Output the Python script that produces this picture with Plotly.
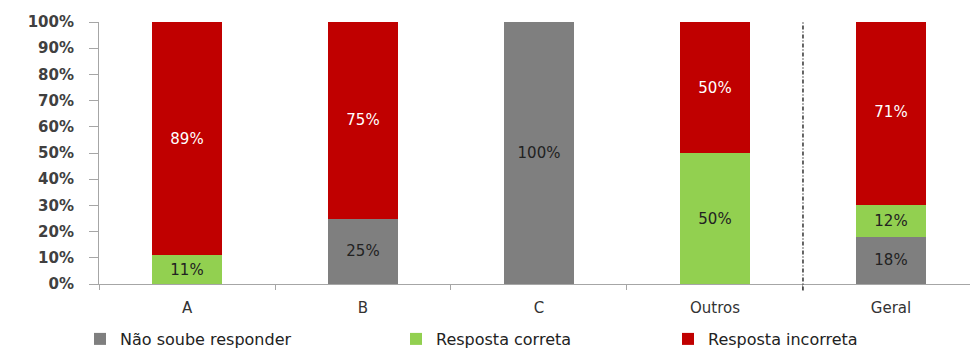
import plotly.graph_objects as go

categories = ["A", "B", "C", "Outros", "Geral"]
nao_soube = [0, 25, 100, 0, 18]
correta = [11, 0, 0, 50, 12]
incorreta = [89, 75, 0, 50, 71]
series_names = ["Não soube responder", "Resposta correta", "Resposta incorreta"]
colors = ["#7F7F7F", "#92D050", "#C00000"]
text_colors = ["#222222", "#222222", "#FFFFFF"]
legend_ids = ["legend", "legend2", "legend3"]
legend_x = [92, 408, 680]
tick_vals = [0, 10, 20, 30, 40, 50, 60, 70, 80, 90, 100]
tick_text = [f"{v}%" for v in tick_vals]

W, H = 970, 351

fig = go.Figure()
for name, vals, col, tc, lg in zip(series_names, [nao_soube, correta, incorreta],
                                   colors, text_colors, legend_ids):
    fig.add_trace(go.Bar(
        x=categories, y=vals, name=name, legend=lg, showlegend=True,
        marker=dict(color=col, line=dict(width=0)),
        text=[f"{v}%" if v > 0 else "" for v in vals],
        textposition="inside", insidetextanchor="middle",
        textangle=0,
        textfont=dict(family="DejaVu Sans", size=15, color=tc),
        width=0.4,
    ))

legend_font = dict(family="DejaVu Sans", size=16, color="#222222")
layout_legends = {}
for lg, lx in zip(legend_ids, legend_x):
    layout_legends[lg] = dict(
        orientation="h", xref="container", yref="container",
        x=(lx - 12) / W, xanchor="left", y=1 - 339 / H, yanchor="middle",
        font=legend_font, itemwidth=30, bgcolor="rgba(0,0,0,0)",
        visible=True,
    )

fig.update_layout(
    barmode="stack",
    showlegend=True,
    width=W, height=H,
    margin=dict(l=99, r=0, t=22, b=67, autoexpand=False),
    plot_bgcolor="white", paper_bgcolor="white",
    uniformtext=dict(minsize=8, mode="show"),
    xaxis=dict(
        range=[-0.5, 4.449], showline=True, linecolor="#A6A6A6", linewidth=1,
        ticks="outside", tickson="boundaries", ticklen=5, tickcolor="#A6A6A6",
        tickfont=dict(family="DejaVu Sans", size=15, color="#333333"),
        ticklabelstandoff=10,
        fixedrange=True,
    ),
    yaxis=dict(
        range=[0, 100], tickvals=tick_vals, ticktext=tick_text,
        showline=True, linecolor="#A6A6A6", linewidth=1, showgrid=False,
        ticks="outside", ticklen=9, tickcolor="#A6A6A6",
        tickfont=dict(family="DejaVu Sans", size=15, color="#404040", weight="bold"),
        ticklabelstandoff=12,
        zeroline=False,
    ),
    **layout_legends,
)

fig.add_shape(type="line", xref="x", yref="paper", x0=3.5, x1=3.5, y0=-0.025, y1=1,
              line=dict(color="#333333", width=1.5, dash="4px,2px,1px,2px"))

fig.write_html("out.html")
